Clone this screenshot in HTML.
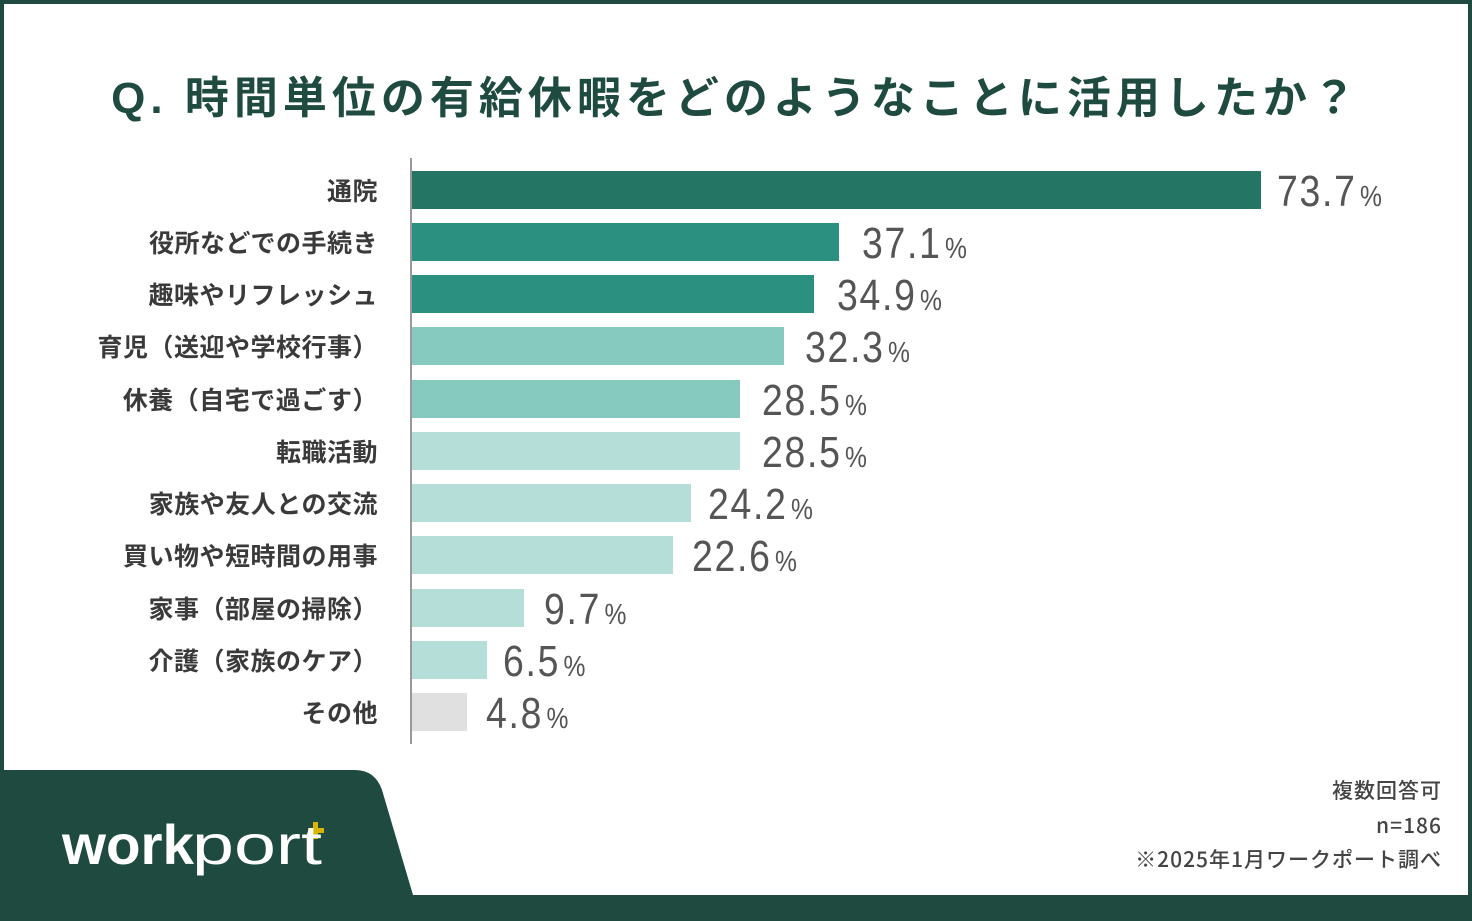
<!DOCTYPE html>
<html><head><meta charset="utf-8"><style>
body{margin:0;width:1472px;height:921px;overflow:hidden;background:#fff;font-family:"Liberation Sans","Noto Sans CJK JP",sans-serif;}
.frame{position:absolute;left:0;top:0;width:1464px;height:913px;border:4px solid #1e4a40;}
.title{position:absolute;left:0;width:1472px;top:62px;text-align:center;font-size:44px;font-weight:bold;color:#1e4a40;letter-spacing:5px;}
.axis{position:absolute;left:410px;top:158px;width:2px;height:586px;background:#999;}
.bar{position:absolute;left:412px;height:38px;}
.lab{position:absolute;right:1094px;font-size:25px;font-weight:bold;color:#3a3a3a;white-space:nowrap;line-height:38px;letter-spacing:0.5px;font-family:"Noto Sans CJK JP",sans-serif;}
.val{position:absolute;font-size:44px;color:#555;line-height:38px;white-space:nowrap;transform:scaleX(0.85);transform-origin:left center;letter-spacing:2px;}
.val span{font-size:29px;margin-left:4px;}
.note{position:absolute;right:30px;font-size:21px;color:#444;font-weight:500;letter-spacing:1px;font-family:"Noto Sans CJK JP",sans-serif;}
</style></head><body>
<div class="frame"></div>
<div class="title">Q. 時間単位の有給休暇をどのようなことに活用したか？</div>
<div class="axis"></div>

<div class="lab" style="top:171px">通院</div><div class="bar" style="top:171px;width:849px;background:#257565"></div><div class="val" style="top:173px;left:1277px">73.7<span>%</span></div>
<div class="lab" style="top:223px">役所などでの手続き</div><div class="bar" style="top:223px;width:427px;background:#2b9080"></div><div class="val" style="top:225px;left:862px">37.1<span>%</span></div>
<div class="lab" style="top:275px">趣味やリフレッシュ</div><div class="bar" style="top:275px;width:402px;background:#2b9080"></div><div class="val" style="top:277px;left:837px">34.9<span>%</span></div>
<div class="lab" style="top:327px">育児（送迎や学校行事）</div><div class="bar" style="top:327px;width:372px;background:#85c9bf"></div><div class="val" style="top:329px;left:805px">32.3<span>%</span></div>
<div class="lab" style="top:380px">休養（自宅で過ごす）</div><div class="bar" style="top:380px;width:328px;background:#85c9bf"></div><div class="val" style="top:382px;left:762px">28.5<span>%</span></div>
<div class="lab" style="top:432px">転職活動</div><div class="bar" style="top:432px;width:328px;background:#b5ded8"></div><div class="val" style="top:434px;left:762px">28.5<span>%</span></div>
<div class="lab" style="top:484px">家族や友人との交流</div><div class="bar" style="top:484px;width:279px;background:#b5ded8"></div><div class="val" style="top:486px;left:708px">24.2<span>%</span></div>
<div class="lab" style="top:536px">買い物や短時間の用事</div><div class="bar" style="top:536px;width:261px;background:#b5ded8"></div><div class="val" style="top:538px;left:692px">22.6<span>%</span></div>
<div class="lab" style="top:589px">家事（部屋の掃除）</div><div class="bar" style="top:589px;width:112px;background:#b5ded8"></div><div class="val" style="top:591px;left:544px">9.7<span>%</span></div>
<div class="lab" style="top:641px">介護（家族のケア）</div><div class="bar" style="top:641px;width:75px;background:#b5ded8"></div><div class="val" style="top:643px;left:503px">6.5<span>%</span></div>
<div class="lab" style="top:693px">その他</div><div class="bar" style="top:693px;width:55px;background:#e0e0e0"></div><div class="val" style="top:695px;left:486px">4.8<span>%</span></div>

<svg style="position:absolute;left:0;top:0" width="1472" height="921">
<path d="M0 770 L355 770 Q375 770 382 790 L413 895 L1472 895 L1472 921 L0 921 Z" fill="#1e4a40"/>
<rect x="308" y="828" width="16" height="5" fill="#d9b400"/>
<rect x="313" y="822" width="5" height="17" fill="#d9b400"/>
<text x="62" y="864" font-family="Liberation Sans, sans-serif" font-size="56" fill="#fff" font-weight="bold" textLength="132" lengthAdjust="spacingAndGlyphs">work</text>
<text x="192" y="864" font-family="Liberation Sans, sans-serif" font-size="56" fill="#fff" textLength="130" lengthAdjust="spacingAndGlyphs">port</text>
</svg>
<div class="note" style="top:775px">複数回答可</div>
<div class="note" style="top:810px">n=186</div>
<div class="note" style="top:844px">※2025年1月ワークポート調べ</div>
</body></html>
